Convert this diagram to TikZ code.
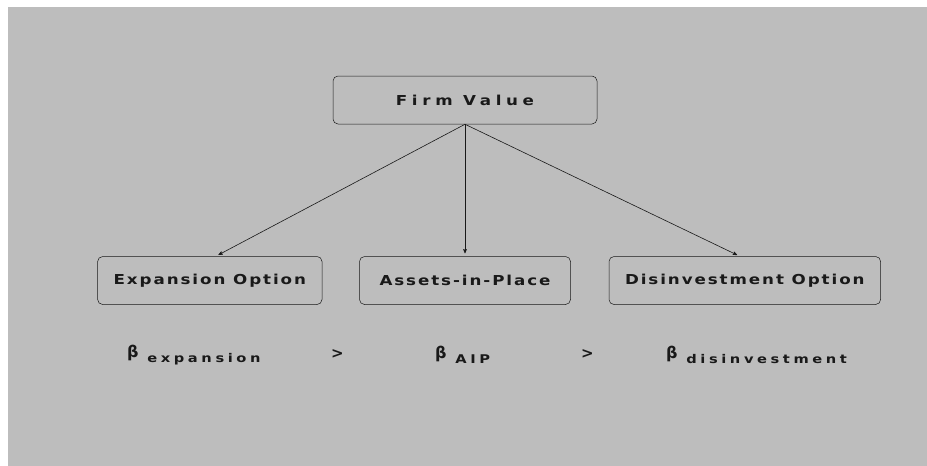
\documentclass[tikz,border=0pt]{standalone}
\usepackage{fontspec}
\setmainfont{DejaVu Sans}
\newfontfamily\boxfont{DejaVu Sans}[FakeStretch=1.22,LetterSpace=14]
\newfontfamily\subfont{DejaVu Sans}[FakeStretch=1.22,LetterSpace=30]
\usetikzlibrary{arrows,positioning}
\definecolor{bggray}{rgb}{0.74,0.74,0.74}
\definecolor{ink}{rgb}{0.1,0.1,0.1}

\begin{document}
\begin{tikzpicture}[x=1pt,y=-1pt,>=stealth',shorten >=3pt,
					main node/.style={draw=ink,line width=0.5pt,rounded corners=5pt,minimum height=48pt,
						inner xsep=16pt,text=ink,font=\boxfont\bfseries\fontsize{13.7}{16}\selectfont},
					beta node/.style={anchor=west,inner sep=0pt,text=ink,font=\bfseries\fontsize{16}{18}\selectfont}]
					\useasboundingbox (0,0) rectangle (927,466);
					\fill[bggray] (8,7) rectangle (927,466);

					\node[main node,minimum width=264pt] (firm) at (465,100) {\addfontfeatures{LetterSpace=34}Firm Value};
					\node[main node,minimum width=211pt] (aip) [below=132pt of firm] {Assets-in-Place};
					\node[main node] (exp) [left=37pt of aip] {Expansion Option};
					\node[main node] (dis) [right=38pt of aip] {Disinvestment Option};

					% betas underneath
					\node[beta node] (bexp) at (127,355) {β\raisebox{-5pt}{\subfont\fontsize{12}{14}\selectfont\ expansion}};
					\node[beta node] (gt1) at (331,354) {\fontsize{15}{17}\selectfont >};
					\node[beta node] (baip) at (435,355) {β\raisebox{-5pt}{\subfont\fontsize{12}{14}\selectfont\ AIP}};
					\node[beta node] (gt2) at (581,354) {\fontsize{15}{17}\selectfont >};
					\node[beta node] (bdis) at (666,355) {β\raisebox{-5pt}{\subfont\fontsize{12}{14}\selectfont\ disinvestment}};

					\path[every edge/.style={draw=ink,line width=0.6pt,->}]
					(firm.south) edge ([xshift=6pt]exp.north)
					(firm.south) edge (aip.north)
					(firm.south) edge ([xshift=-5pt]dis.north);
\end{tikzpicture}
\end{document}
